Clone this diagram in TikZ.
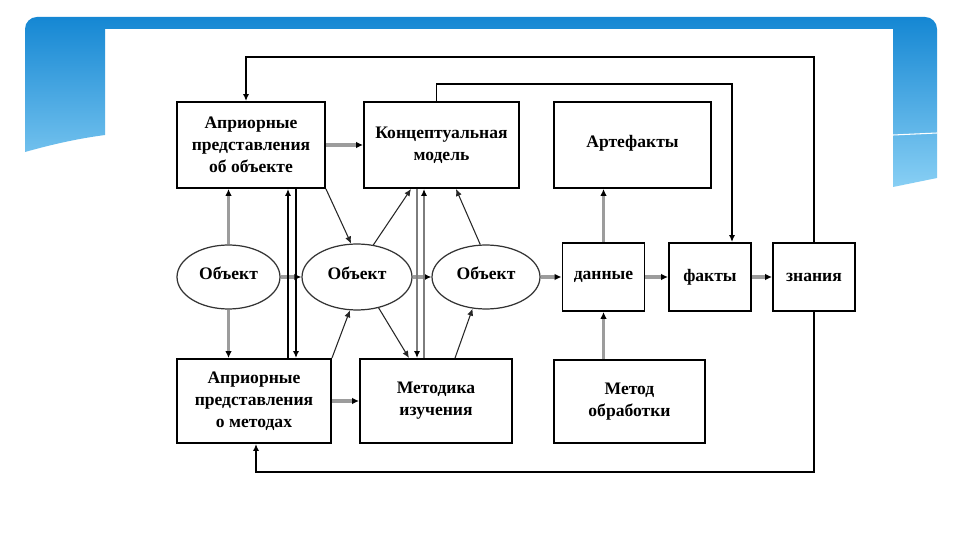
\documentclass[tikz,border=0pt]{standalone}
\usepackage{fontspec}
\setmainfont{Liberation Serif}
\usetikzlibrary{shapes.geometric,arrows.meta}
\definecolor{deco1}{HTML}{1587D3}
\definecolor{deco2}{HTML}{88CFF4}
\definecolor{shaft}{HTML}{9C9C9C}

\begin{document}
\begin{tikzpicture}[
x=0.02cm,
y=-0.02cm,
box/.style={
  draw,
  line width=1.1pt,
  align=center,
  inner sep=2pt
  },
obj/.style={
  draw=black!80,
  ellipse,
  line width=0.7pt,
  inner sep=0pt,
  minimum height=1.28cm
  },
flow/.style={
  draw=shaft,
  line width=1.8pt,
  -{Latex[color=black,length=4pt,width=3.8pt]}
  },
link/.style={
  draw=black!85,
  line width=0.6pt,
  ->
  },
back/.style={
  draw,
  line width=1pt,
  ->
  },
pairg/.style={
  draw=shaft!80!black,
  line width=1.1pt,
  -{Latex[color=black,length=4pt,width=3.5pt]}
  },
every node/.style={font=\fontsize{10}{12.5}\selectfont\bfseries},
>={Latex[length=4pt,width=3.5pt]}
]

% slide background
\useasboundingbox (0,0) rectangle (960,540);
\fill[white] (0,0) rectangle (960,540);
\shade[top color=deco1, bottom color=deco2] (25,152) [rounded corners=0.24cm]
  -- (25,17) -- (937,17) -- (937,100) [sharp corners] -- (937,178) -- (893,187)
  -- (893,29) -- (105,29) -- (105,135) .. controls (75,139) and (50,145) .. (25,152) -- cycle;
\draw[white, line width=0.6pt] (893,135) -- (937,133);

% top row
\node[box, minimum width=2.96cm, minimum height=1.72cm] (apo) at (251,145)
  {Априорные\\представления\\об объекте};
\node[box, minimum width=3.1cm, minimum height=1.72cm] (konc) at (441.5,145)
  {Концептуальная\\модель};
\node[box, minimum width=3.14cm, minimum height=1.72cm] (artf) at (632.5,145)
  {\raisebox{4pt}{Артефакты}};

% middle row
\node[obj, minimum width=2.06cm] (ob1) at (228.5,277) {\raisebox{4pt}{Объект}};
\node[obj, minimum width=2.2cm, minimum height=1.32cm] (ob2) at (357,277) {\raisebox{4pt}{Объект}};
\node[obj, minimum width=2.16cm] (ob3) at (486,277) {\raisebox{4pt}{Объект}};
\node[box, minimum width=1.64cm, minimum height=1.36cm] (dann) at (603.5,277) {данные};
\node[box, minimum width=1.64cm, minimum height=1.36cm] (fakt) at (710,277) {факты};
\node[box, minimum width=1.64cm, minimum height=1.36cm] (znan) at (814,277) {знания};

% bottom row
\node[box, minimum width=3.08cm, minimum height=1.68cm] (apm) at (254,401)
  {Априорные\\представления\\о методах};
\node[box, minimum width=3.04cm, minimum height=1.68cm] (meti) at (436,401)
  {Методика\\изучения};
\node[box, minimum width=3.02cm, minimum height=1.66cm] (mobr) at (629.5,401.5)
  {Метод\\обработки};

% flows
\foreach \a/\b in {apo/konc, apm/meti, ob1/ob2, ob2/ob3, ob3/dann, dann/fakt, fakt/znan}
  \draw[flow] (\a.east) -- (\b.west);
\draw[flow] (ob1.north) -- (ob1.north |- apo.south);
\draw[flow] (ob1.south) -- (ob1.south |- apm.north);
\draw[flow] (dann.north) -- (dann.north |- artf.south);
\draw[flow] (mobr.north -| dann.south) -- (dann.south);

% verticals between rows
\draw[back] ([xshift=0.68cm]apm.north) -- ([xshift=0.68cm]apm.north |- apo.south);
\draw[back] ([xshift=0.84cm]apm.north |- apo.south) -- ([xshift=0.84cm]apm.north);
\draw[pairg] ([xshift=-0.38cm]meti.north |- konc.south) -- ([xshift=-0.38cm]meti.north);
\draw[pairg] ([xshift=-0.24cm]meti.north) -- ([xshift=-0.24cm]meti.north |- konc.south);

% diagonals
\draw[link] (apo.south east) -- (ob2.100);
\draw[link] (ob2.63) -- ([xshift=-0.61cm]konc.south);
\draw[link] (ob3.100) -- ([xshift=0.29cm]konc.south);
\draw[link] (apm.north east) -- (ob2.258);
\draw[link] (ob2.305) -- ([xshift=-0.54cm]meti.north);
\draw[link] ([xshift=0.38cm]meti.north) -- (ob3.247);

% feedback
\draw[back] (znan.north) -- ++(0,-185) -| ([xshift=-0.1cm]apo.north);
\draw[back] (znan.south) -- ++(0,160) -| ([xshift=0.04cm]apm.south);
\draw[back] ([xshift=-0.1cm]konc.north) -- ++(0,-17) -| ([xshift=0.44cm]fakt.north);
\end{tikzpicture}
\end{document}
